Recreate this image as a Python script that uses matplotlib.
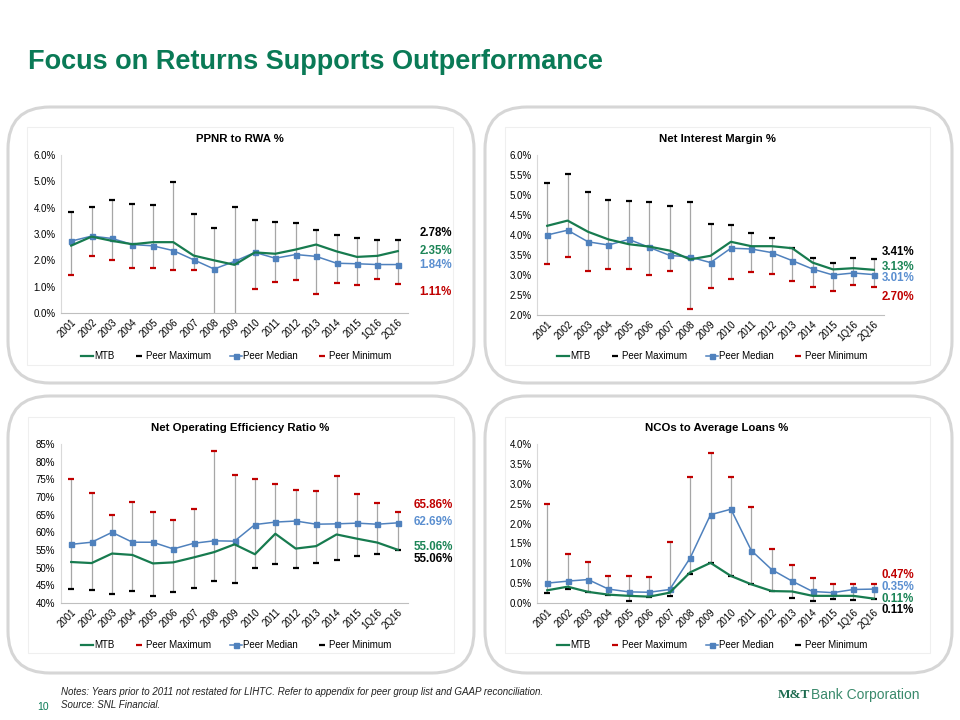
import matplotlib
matplotlib.use("Agg")
import matplotlib.pyplot as plt
from matplotlib.patches import FancyBboxPatch, Rectangle

plt.rcParams['font.family'] = ['Liberation Sans', 'DejaVu Sans']

categories = ["2001", "2002", "2003", "2004", "2005", "2006", "2007", "2008", "2009",
              "2010", "2011", "2012", "2013", "2014", "2015", "1Q16", "2Q16"]

# PPNR to RWA %
ppnr_mtb = [2.56, 2.90, 2.74, 2.61, 2.69, 2.69, 2.18, 2.00, 1.83, 2.30, 2.25, 2.41, 2.60, 2.34, 2.13, 2.17, 2.35]
ppnr_median = [2.73, 2.92, 2.83, 2.60, 2.55, 2.37, 2.02, 1.67, 1.96, 2.30, 2.08, 2.22, 2.15, 1.89, 1.87, 1.84, 1.84]
ppnr_max = [3.83, 4.02, 4.31, 4.14, 4.10, 4.97, 3.75, 3.24, 4.04, 3.55, 3.46, 3.42, 3.14, 2.98, 2.83, 2.79, 2.78]
ppnr_min = [1.46, 2.18, 2.00, 1.69, 1.72, 1.63, 1.64, -0.30, -0.60, 0.93, 1.19, 1.26, 0.71, 1.14, 1.05, 1.30, 1.11]

# Net Interest Margin %
nim_mtb = [4.23, 4.36, 4.08, 3.89, 3.77, 3.71, 3.61, 3.39, 3.48, 3.83, 3.72, 3.72, 3.67, 3.31, 3.14, 3.17, 3.13]
nim_median = [4.00, 4.12, 3.83, 3.75, 3.89, 3.69, 3.49, 3.45, 3.31, 3.67, 3.65, 3.56, 3.36, 3.15, 3.00, 3.05, 3.01]
nim_max = [5.29, 5.53, 5.08, 4.88, 4.85, 4.83, 4.73, 4.83, 4.27, 4.24, 4.05, 3.92, 3.68, 3.42, 3.31, 3.43, 3.41]
nim_min = [3.28, 3.45, 3.10, 3.16, 3.16, 3.00, 3.10, 2.14, 2.68, 2.90, 3.07, 3.02, 2.84, 2.69, 2.59, 2.75, 2.70]

# Net Operating Efficiency Ratio %
eff_mtb = [51.6, 51.3, 54.0, 53.6, 51.2, 51.5, 52.9, 54.4, 56.6, 53.8, 59.6, 55.4, 56.1, 59.4, 58.2, 57.1, 55.06]
eff_median = [56.6, 57.2, 60.0, 57.2, 57.2, 55.3, 56.9, 57.6, 57.5, 62.2, 62.9, 63.2, 62.3, 62.4, 62.6, 62.3, 62.69]
eff_max = [75.2, 71.0, 64.9, 68.6, 65.8, 63.6, 66.7, 82.9, 76.3, 75.2, 73.6, 71.9, 71.7, 75.9, 70.9, 68.3, 65.86]
eff_min = [44.0, 43.8, 42.6, 43.3, 41.9, 43.0, 44.2, 46.3, 45.7, 49.8, 51.1, 49.8, 51.3, 52.1, 53.4, 53.8, 55.06]

# NCOs to Average Loans %
nco_mtb = [0.32, 0.41, 0.28, 0.21, 0.18, 0.16, 0.26, 0.77, 1.01, 0.68, 0.47, 0.30, 0.29, 0.18, 0.18, 0.18, 0.11]
nco_median = [0.50, 0.55, 0.59, 0.35, 0.28, 0.27, 0.34, 1.13, 2.22, 2.36, 1.32, 0.84, 0.55, 0.29, 0.26, 0.34, 0.35]
nco_max = [2.49, 1.24, 1.03, 0.67, 0.67, 0.65, 1.53, 3.17, 3.77, 3.18, 2.42, 1.36, 0.95, 0.63, 0.49, 0.49, 0.47]
nco_min = [0.25, 0.35, 0.28, 0.21, 0.06, 0.14, 0.18, 0.72, 1.01, 0.68, 0.47, 0.30, 0.13, 0.05, 0.10, 0.08, 0.11]

GREEN = "#177b4f"
BLUE = "#4f81bd"
RED = "#c00000"
BLACK = "#000000"
GRAY = "#a6a6a6"
LBL_GREEN = "#1b8456"
LBL_BLUE = "#5b8fd0"

W, H = 960, 720
fig = plt.figure(figsize=(9.6, 7.2), dpi=100)

# background layer in pixel coordinates
bg = fig.add_axes([0, 0, 1, 1], zorder=-10)
bg.set_xlim(0, W)
bg.set_ylim(H, 0)
bg.axis('off')

boxes = [(8, 107, 474, 383), (485, 107, 952, 383), (8, 396, 474, 673), (485, 396, 952, 673)]
inners = [(27, 127, 453, 365), (505, 127, 930, 365), (28, 417, 454, 653), (505, 417, 930, 653)]
for (x0, y0, x1, y1) in boxes:
    bg.add_patch(FancyBboxPatch((x0, y0), x1 - x0, y1 - y0,
                                boxstyle="round,pad=0,rounding_size=42",
                                fc="white", ec="#d6d6d6", lw=2.2))
for (x0, y0, x1, y1) in inners:
    bg.add_patch(Rectangle((x0, y0), x1 - x0, y1 - y0, fc="white", ec="#efefef", lw=0.8))

fig.text(28 / W, 1 - 62 / H, "Focus on Returns Supports Outperformance", color="#0a7a56",
         fontsize=19.5, fontweight='bold', ha='left', va='center')


def px_axes(l, t, r, b):
    return fig.add_axes([l / W, 1 - b / H, (r - l) / W, (b - t) / H])


panels = [
    dict(rect=(61, 155, 408, 313), title="PPNR to RWA %", mtb=ppnr_mtb, med=ppnr_median,
         mx=ppnr_max, mn=ppnr_min, mxc=BLACK, mnc=RED, ylim=(0, 6), step=1.0, fmt="{:.1f}%",
         lx=15.8, offs=[(ppnr_max, BLACK, 5.0), (ppnr_mtb, LBL_GREEN, 0.0), (ppnr_median, LBL_BLUE, 0.0), (ppnr_min, RED, -6.0)],
         legy=356, tcx=240, tcy=139),
    dict(rect=(537, 155, 884, 315), title="Net Interest Margin %", mtb=nim_mtb, med=nim_median,
         mx=nim_max, mn=nim_min, mxc=BLACK, mnc=RED, ylim=(2, 6), step=0.5, fmt="{:.1f}%",
         lx=5.8, offs=[(nim_max, BLACK, 4.8), (nim_mtb, LBL_GREEN, 2.2), (nim_median, LBL_BLUE, -2.5), (nim_min, RED, -7.2)],
         legy=356, tcx=717, tcy=139),
    dict(rect=(61, 444, 408, 603), title="Net Operating Efficiency Ratio %", mtb=eff_mtb, med=eff_median,
         mx=eff_max, mn=eff_min, mxc=RED, mnc=BLACK, ylim=(40, 85), step=5, fmt="{:.0f}%",
         lx=11.5, offs=[(eff_max, RED, 4.8), (eff_median, LBL_BLUE, 0.5), (eff_mtb, LBL_GREEN, 2.2), (eff_min, BLACK, -6.5)],
         legy=645, tcx=240, tcy=428),
    dict(rect=(537, 444, 884, 603), title="NCOs to Average Loans %", mtb=nco_mtb, med=nco_median,
         mx=nco_max, mn=nco_min, mxc=RED, mnc=BLACK, ylim=(0, 4), step=0.5, fmt="{:.1f}%",
         lx=5.8, offs=[(nco_max, RED, 6.4), (nco_median, LBL_BLUE, 1.2), (nco_mtb, LBL_GREEN, -0.2), (nco_min, BLACK, -8.3)],
         legy=645, tcx=717, tcy=428),
]

x = list(range(len(categories)))
for p in panels:
    ax = px_axes(*p["rect"])
    ax.set_xlim(-0.5, len(categories) - 0.5)
    y0, y1 = p["ylim"]
    ax.set_ylim(y0, y1)
    n = int(round((y1 - y0) / p["step"]))
    ticks = [y0 + i * p["step"] for i in range(n + 1)]
    ax.set_yticks(ticks)
    ax.set_yticklabels([p["fmt"].format(t) for t in ticks], fontsize=7)
    ax.set_xticks(x)
    ax.set_xticklabels(categories, rotation=45, ha='right', va='top', rotation_mode='anchor', fontsize=7)
    ax.tick_params(length=0, pad=4)
    ax.tick_params(axis='x', pad=3)
    for s in ['top', 'right']:
        ax.spines[s].set_visible(False)
    ax.spines['left'].set_color('#d9d9d9')
    ax.spines['bottom'].set_color('#bfbfbf')
    ax.spines['left'].set_linewidth(0.8)
    ax.spines['bottom'].set_linewidth(0.8)
    ax.patch.set_alpha(0)

    ax.vlines(x, p["mn"], p["mx"], color=GRAY, lw=0.9, zorder=1)
    h_max, = ax.plot(x, p["mx"], ls='none', marker='_', ms=5, mew=1.6, color=p["mxc"], zorder=2, label="Peer Maximum")
    h_min, = ax.plot(x, p["mn"], ls='none', marker='_', ms=5, mew=1.6, color=p["mnc"], zorder=2, label="Peer Minimum")
    h_med, = ax.plot(x, p["med"], color=BLUE, lw=1.1, marker='s', ms=3.6, zorder=3, label="Peer Median")
    h_mtb, = ax.plot(x, p["mtb"], color=GREEN, lw=1.6, zorder=4, label="MTB")

    for series, col, dy in p["offs"]:
        ax.annotate(f"{series[-1]:.2f}%", xy=(x[-1], series[-1]), xytext=(p["lx"], dy),
                    textcoords='offset points', ha='left', va='center', fontsize=8.3,
                    fontweight='bold', color=col, annotation_clip=False)

    l, t, r, b = p["rect"]
    fig.text(p["tcx"] / W, 1 - p["tcy"] / H, p["title"], fontsize=8.2, fontweight='bold',
             ha='center', va='center')
    fig.legend(handles=[h_mtb, h_max, h_med, h_min], loc='center',
               bbox_to_anchor=(((l + r) / 2 + 2) / W, 1 - p["legy"] / H), ncol=4, frameon=False,
               fontsize=7.0, handlelength=1.2, handletextpad=0.15, columnspacing=1.9,
               numpoints=1, borderpad=0)

fig.text(37 / W, 1 - 707 / H, "10", color="#0a7a56", fontsize=7.5, ha='left', va='center')
fig.text(61 / W, 1 - 692 / H,
         "Notes: Years prior to 2011 not restated for LIHTC. Refer to appendix for peer group list and GAAP reconciliation.",
         fontsize=7.0, style='italic', ha='left', va='center', color="#222222")
fig.text(61 / W, 1 - 705 / H, "Source: SNL Financial.", fontsize=7.0, style='italic',
         ha='left', va='center', color="#222222")
fig.text(778 / W, 1 - 695 / H, "M&T", fontsize=9.5, fontweight='bold',
         family=['Liberation Serif', 'DejaVu Serif'], color="#1d6b4f", ha='left', va='center')
fig.text(811 / W, 1 - 695 / H, "Bank Corporation", fontsize=10.0, color="#3a8a6c",
         ha='left', va='center')

fig.savefig("out.png", dpi=100)
